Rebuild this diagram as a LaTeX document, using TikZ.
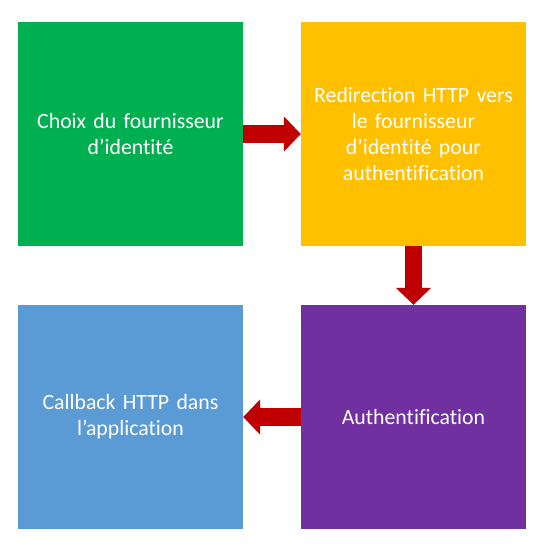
\documentclass[tikz,border=0pt]{standalone}
\usepackage{fontspec}
\setmainfont{Carlito}[Ligatures=NoCommon]
\usetikzlibrary{arrows.meta}
\definecolor{cgreen}{HTML}{00B050}
\definecolor{corange}{HTML}{FFC000}
\definecolor{cblue}{HTML}{5B9BD5}
\definecolor{cpurple}{HTML}{7030A0}
\definecolor{cred}{HTML}{C00000}
\begin{document}
\begin{tikzpicture}[x=1pt,y=-1pt,
  box/.style={minimum width=225pt,minimum height=224pt,inner sep=0pt,
    text width=215pt,align=center,text=white,
    font=\fontsize{21.8}{26}\selectfont},
  bigarrow/.style={draw=cred,line width=17.6pt,
    -{Triangle[width=34.4pt,length=17pt,fill=cred]}}]
\useasboundingbox (0,0) rectangle (549,550);
\node[box,fill=cgreen] (g) at (130.5,134) {Choix du fournisseur\\d’identité};
\node[box,fill=corange] (o) at (413.5,134) {Redirection HTTP vers\\le fournisseur\\d’identité pour\\authentification};
\node[box,fill=cblue] (b) at (130.5,417) {Callback HTTP dans\\l’application};
\node[box,fill=cpurple] (p) at (413.5,417) {Authentification};
\draw[bigarrow] (g.east) -- (o.west);
\draw[bigarrow] (o.south) -- (p.north);
\draw[bigarrow] (p.west) -- (b.east);
\end{tikzpicture}
\end{document}
